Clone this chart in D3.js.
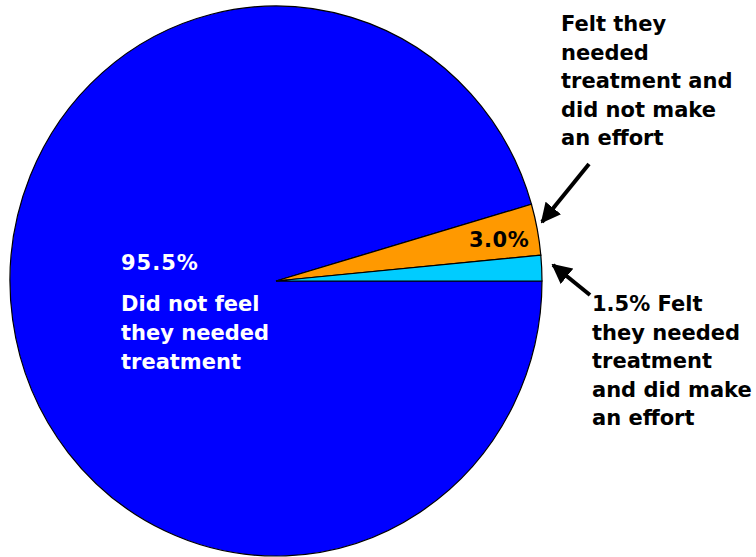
<!DOCTYPE html>
<html>
<head>
<meta charset="utf-8">
<script src="https://cdn.jsdelivr.net/npm/d3@7"></script>
<style>
  html, body { margin: 0; padding: 0; background: #fff; }
  svg { display: block; }
  text { font-family: "DejaVu Sans", Verdana, sans-serif; font-weight: bold; }
</style>
</head>
<body>
<svg id="chart" width="756" height="557"></svg>
<script>
// Survey shares (percent)
const categories = [
  "Did not feel they needed treatment",
  "Felt they needed treatment and did not make an effort",
  "Felt they needed treatment and did make an effort"
];
const values = [95.5, 3.0, 1.5];
const colors = ["#0000FF", "#FF9900", "#00CCFF"];

const svg = d3.select("#chart");
const cx = 276, cy = 281, rx = 266, ry = 275;

const pie = d3.pie()
  .sort(null)
  .value(d => d)
  .startAngle(Math.PI / 2)
  .endAngle(Math.PI / 2 + 2 * Math.PI);
const arcs = pie(values);
const arc = d3.arc().innerRadius(0).outerRadius(ry);

const g = svg.append("g")
  .attr("transform", `translate(${cx},${cy}) scale(${rx / ry},1)`);

g.selectAll("path")
  .data(arcs)
  .join("path")
  .attr("d", arc)
  .attr("fill", (d, i) => colors[i])
  .attr("stroke", "#000")
  .attr("stroke-width", 1.2)
  .attr("vector-effect", "non-scaling-stroke");

const fmt = v => v.toFixed(1) + "%";

function lines(x, y0, arr, fill, size, lh) {
  const t = svg.append("text")
    .attr("x", x).attr("y", y0)
    .attr("fill", fill)
    .style("font-size", size + "px");
  arr.forEach((s, i) => {
    t.append("tspan").attr("x", x).attr("y", y0 + i * lh).text(s);
  });
  return t;
}

// Large slice label
lines(121, 270, [fmt(values[0])], "#fff", 21, 29).style("letter-spacing", "1px");
lines(121, 311, ["Did not feel", "they needed", "treatment"], "#fff", 21, 29);

// Orange slice value inside the slice
lines(469, 247, [fmt(values[1])], "#000", 21, 29).style("letter-spacing", "0.5px");

// Callout labels
lines(561, 31, ["Felt they", "needed", "treatment and", "did not make", "an effort"], "#000", 21, 28.5);
lines(592, 311, [fmt(values[2]) + " Felt", "they needed", "treatment", "and did make", "an effort"], "#000", 21, 28.5);

// Arrows
const defs = svg.append("defs");
defs.append("marker")
  .attr("id", "head")
  .attr("viewBox", "0 0 10 10")
  .attr("refX", 9).attr("refY", 5)
  .attr("markerWidth", 5).attr("markerHeight", 5)
  .attr("markerUnits", "strokeWidth")
  .attr("orient", "auto")
  .append("path")
  .attr("d", "M0,0 L10,5 L0,10 Z")
  .attr("fill", "#000");

svg.append("line")
  .attr("x1", 589).attr("y1", 164).attr("x2", 542).attr("y2", 222)
  .attr("stroke", "#000").attr("stroke-width", 4)
  .attr("marker-end", "url(#head)");
svg.append("line")
  .attr("x1", 590).attr("y1", 295).attr("x2", 553).attr("y2", 265)
  .attr("stroke", "#000").attr("stroke-width", 4)
  .attr("marker-end", "url(#head)");
</script>
</body>
</html>
